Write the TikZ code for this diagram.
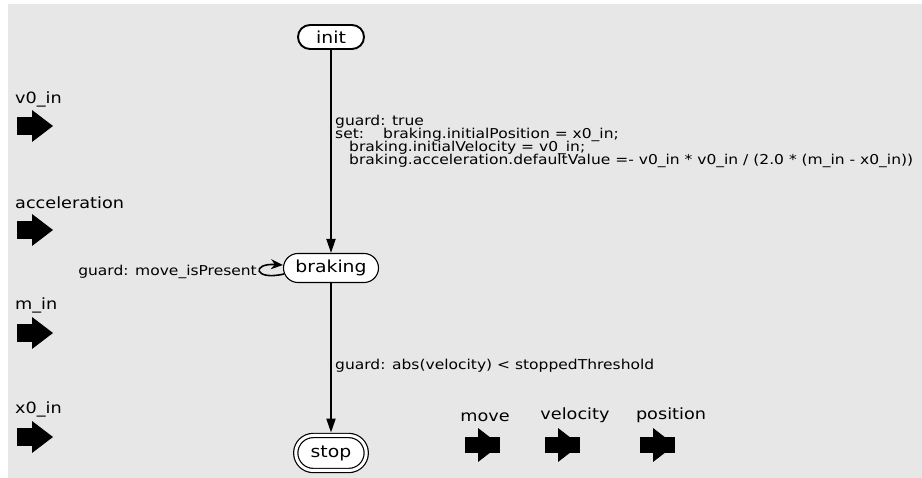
\documentclass[tikz,border=0pt]{standalone}
\usepackage{fontspec}
\setmainfont{DejaVu Sans}[FakeStretch=1.14]
\usetikzlibrary{arrows.meta,shapes.misc,calc}
\definecolor{bg}{RGB}{231,231,231}
\tikzset{
  statebox/.style={rounded rectangle, draw, fill=white, inner sep=0pt, font=\fontsize{16.5}{16.5}\selectfont},
  edgeline/.style={line width=1.9pt, -{Triangle[length=14pt,width=9pt]}},
  looparrow/.style={line width=1.6pt, -{Stealth[length=12pt,width=10pt]}},
  lbl/.style={anchor=base west, inner sep=0pt, font=\fontsize{13.6}{13.6}\selectfont},
  portlbl/.style={anchor=base west, inner sep=0pt, font=\fontsize{15.5}{15.5}\selectfont},
  inport/.pic={\fill (0,-9) rectangle (16,9); \fill (15,-16) -- (36,0) -- (15,16) -- cycle;},
  outport/.pic={\fill (0,-8) rectangle (35,8); \fill (13,-17) -- (35,0) -- (13,17) -- cycle;}
}
\begin{document}
\begin{tikzpicture}[x=1pt,y=-1pt]
\useasboundingbox (0,0) rectangle (922,478);
\fill[bg] (8,4) rectangle (922,478);

% states
\node[statebox, line width=1.9pt, minimum width=66pt, minimum height=24pt] (init) at (331,37) {init};
\node[statebox, line width=1.1pt, minimum width=95pt, minimum height=29pt] (braking) at (331,268) {braking};
\node[statebox, line width=1.2pt, double, double distance=3pt, minimum width=70.5pt, minimum height=35pt] (stop) at (331,453) {stop};

% transitions
\draw[edgeline] (init) -- (braking);
\draw[edgeline, shorten >=2.3pt] (braking) -- (stop);
\coordinate (lpA) at ($(braking.west)+(1,6)$);
\coordinate (lpB) at ($(braking.west)+(0,-3)$);
\draw[looparrow] (lpA) .. controls +(-30,7) and +(-32,-2) .. (lpB);

% transition labels
\node[lbl] (g1) at (335,126) {guard: true};
\node[lbl] (s1) at (335,139) {set:};
\node[lbl] (s2) at (383,139) {braking.initialPosition = x0\_in;};
\node[lbl] (s3) at (349,152) {braking.initialVelocity = v0\_in;};
\node[lbl] (s4) at (349,165) {braking.acceleration.defaultValue =- v0\_in * v0\_in / (2.0 * (m\_in - x0\_in))};
\node[lbl, anchor=base east] (g2) at (257,276) {guard: move\_isPresent};
\node[lbl] (g3) at (335,370) {guard: abs(velocity) < stoppedThreshold};

% input ports
\node[portlbl] (pv0) at (15,104) {v0\_in};
\pic at (17,126) {inport};
\node[portlbl] (pacc) at (15,209) {acceleration};
\pic at (17,230) {inport};
\node[portlbl] (pm) at (15,310) {m\_in};
\pic at (17,333) {inport};
\node[portlbl] (px0) at (15,414) {x0\_in};
\pic at (17,437) {inport};

% output ports
\node[portlbl, anchor=base] (omove) at (485,422) {move};
\pic at (465,445) {outport};
\node[portlbl, anchor=base] (ovel) at (575,420) {velocity};
\pic at (545,445) {outport};
\node[portlbl, anchor=base] (opos) at (671,420) {position};
\pic at (640,445) {outport};
\end{tikzpicture}
\end{document}
